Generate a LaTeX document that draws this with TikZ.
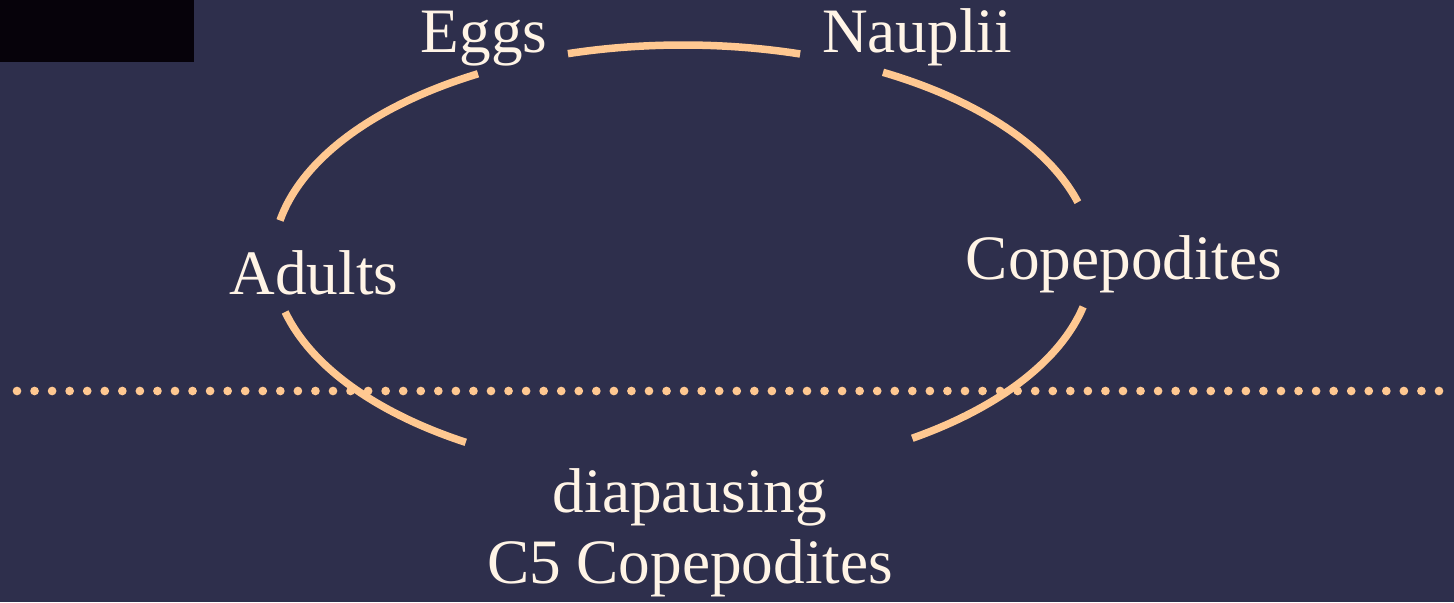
\documentclass[tikz,border=0pt]{standalone}
\usepackage{fontspec}
\setmainfont{Liberation Serif}
\usetikzlibrary{calc,positioning}
\definecolor{bgnavy}{RGB}{46,47,76}
\definecolor{arcpeach}{RGB}{255,200,145}
\definecolor{labelcream}{RGB}{255,244,230}
\definecolor{blackbox}{RGB}{6,2,10}
\tikzset{lbl/.style={text=labelcream,font=\fontsize{36}{40.4}\selectfont,inner sep=0pt,anchor=base,align=center},
  cyclearc/.style={draw=arcpeach,line width=0.15cm,line cap=butt},
  surface/.style={draw=arcpeach,line width=0.174cm,line cap=round,dash pattern=on 0pt off 0.3511cm}}
\begin{document}
\begin{tikzpicture}
\fill[bgnavy] (0,0) rectangle (29.08,12.04);
\useasboundingbox (0,0) rectangle (29.08,12.04);
\fill[blackbox] (0,10.8) rectangle (3.88,12.04);
\coordinate (O) at (13.66,6.84);
% life stages
\node[lbl] (eggs) at (9.68,10.98) {Eggs};
\node[lbl] (nauplii) at (18.34,10.98) {Nauplii};
\node[lbl] (copepodites) at (22.48,6.44) {Copepodites};
\node[lbl] (adults) at (6.28,6.14) {Adults};
\node[lbl] (diapause) at (13.8,0.38) {diapausing\\C5 Copepodites};
% cycle
\foreach \s/\e [count=\i] in {106.3/73.4,60.8/15.6,-12.6/-56,-122/-166,169.4/120}{
  \coordinate (a\i) at ($(O)+(\s:8.2 and 4.3)$);
  \draw[cyclearc] (a\i) arc[start angle=\s,end angle=\e,x radius=8.2,y radius=4.3];}
% sea surface
\coordinate (s1) at (0.34,4.22);
\coordinate (s2) at (28.78,4.22);
\draw[surface] (s1)--(s2);
\end{tikzpicture}
\end{document}
